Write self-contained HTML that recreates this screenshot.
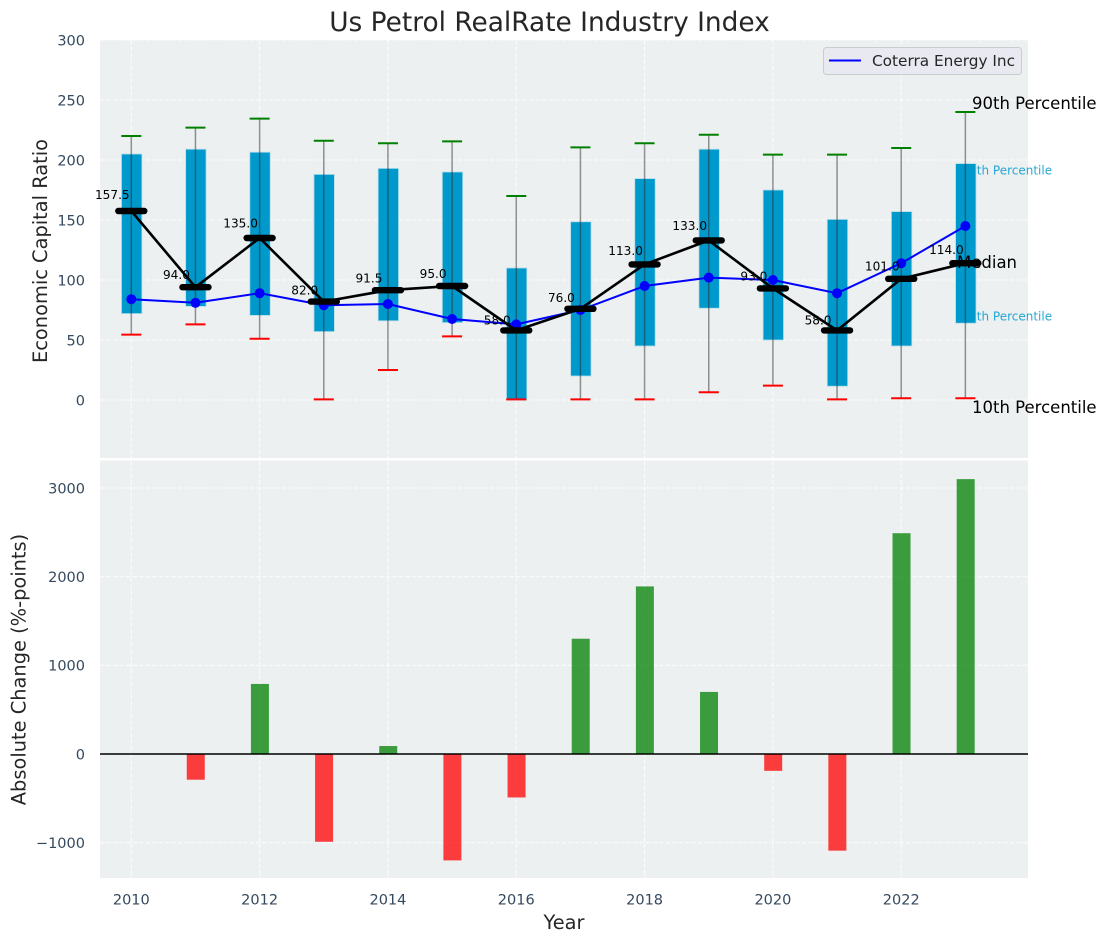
<!DOCTYPE html>
<html lang="en">
<head>
<meta charset="utf-8">
<title>Us Petrol RealRate Industry Index</title>
<style>
html,body{margin:0;padding:0;background:#fff;width:1107px;height:942px;overflow:hidden}
svg{display:block;font-family:"DejaVu Sans","Liberation Sans",sans-serif}
</style>
</head>
<body>
<svg id="chart" xmlns="http://www.w3.org/2000/svg" width="1107" height="942" viewBox="0 0 1107 942"></svg>
<script>
const years = [2010,2011,2012,2013,2014,2015,2016,2017,2018,2019,2020,2021,2022,2023];
const p90 = [220,227,234.5,216,214,215.5,170,210.5,214,221,204.5,204.5,210,240];
const p75 = [205,209,206.5,188,193,190,110,148.5,184.5,209,175,150.5,157,197];
const p25 = [72,78,70.5,57,66,64.5,0,20,45,76.5,50,11.5,45,64];
const p10 = [54.5,63,51,0.5,25,53,0.5,0.5,0.5,6.5,12,0.5,1.5,1.5];
const medians = [157.5,94,135,82,91.5,95,58,76,113,133,93,58,101,114];
const companyValues = [84,81,89,79,80,67.5,63,75,95,102,100,89,114,145];
const absChange = [0,-290,790,-990,90,-1200,-490,1300,1890,700,-190,-1090,2490,3100];
const xTicks = [2010,2012,2014,2016,2018,2020,2022];
const topYTicks = [0,50,100,150,200,250,300];
const bottomYTicks = [-1000,0,1000,2000,3000];
const topTitle = 'Us Petrol RealRate Industry Index';

const svg = document.getElementById('chart');
const NS = 'http://www.w3.org/2000/svg';
const L = 100, R = 1028, T1 = 40, B1 = 458, T2 = 460.5, B2 = 878;
const x = v => 131.3 + (v - 2010) * 64.16;
const y1 = v => 400 - v * 1.2;
const y2 = v => 754 - v * 0.08867;
function mk(tag, attrs, text) {
  const el = document.createElementNS(NS, tag);
  for (const k in attrs) el.setAttribute(k, attrs[k]);
  if (text !== undefined) el.textContent = text;
  svg.appendChild(el);
  return el;
}
const fmt = v => (v < 0 ? '\u2212' + Math.abs(v) : String(v));
let el;

el = mk('rect', {x:L, y:T1, width:R-L, height:B1-T1, fill:'#ecf0f1'});


el = mk('rect', {x:L, y:T2, width:R-L, height:B2-T2, fill:'#ecf0f1'});



const gridStyle = {stroke:'#ffffff', 'stroke-width':1.1, 'stroke-dasharray':'4.5 2', opacity:0.8};
xTicks.forEach(t => {
  el = mk('line', Object.assign({x1:x(t), x2:x(t), y1:T1, y2:B1}, gridStyle));
  
  
  el = mk('line', Object.assign({x1:x(t), x2:x(t), y1:T2, y2:B2}, gridStyle));
  
  
  el = mk('text', {x:x(t), y:904.5, 'text-anchor':'middle', 'font-size':14.5, fill:'#34495e'}, String(t));
  
  
});
topYTicks.forEach(t => {
  el = mk('line', Object.assign({x1:L, x2:R, y1:y1(t), y2:y1(t)}, gridStyle));
  
  
  el = mk('text', {x:85, y:y1(t)+5.3, 'text-anchor':'end', 'font-size':14.5, fill:'#34495e'}, String(t));
  
  
});
bottomYTicks.forEach(t => {
  el = mk('line', Object.assign({x1:L, x2:R, y1:y2(t), y2:y2(t)}, gridStyle));
  
  
  el = mk('text', {x:85, y:y2(t)+5.3, 'text-anchor':'end', 'font-size':14.5, fill:'#34495e'}, fmt(t));
  
  
});

el = mk('text', {x:961.5, y:174.5, 'font-size':12, fill:'#0099cc', 'fill-opacity':0.85}, '75th Percentile');


el = mk('text', {x:961.5, y:320.5, 'font-size':12, fill:'#0099cc', 'fill-opacity':0.85}, '25th Percentile');



years.forEach((yr, i) => {
  el = mk('rect', {x:x(yr)-9.8, y:y1(p75[i]), width:20.4, height:y1(p25[i])-y1(p75[i]), fill:'#0099cc', stroke:'#b5dcea', 'stroke-width':0.8});
  
  
  el = mk('line', {x1:x(yr), x2:x(yr), y1:y1(p90[i]), y2:y1(p10[i]), stroke:'#2b2b2b', 'stroke-opacity':0.5, 'stroke-width':1.5});
  
  
  el = mk('line', {x1:x(yr)-10, x2:x(yr)+10, y1:y1(p90[i]), y2:y1(p90[i]), stroke:'#008000', 'stroke-width':2});
  
  
  el = mk('line', {x1:x(yr)-10, x2:x(yr)+10, y1:y1(p10[i]), y2:y1(p10[i]), stroke:'#ff0000', 'stroke-width':2});
  
  
});

el = mk('polyline', {points:years.map((yr,i)=>x(yr)+','+y1(companyValues[i])).join(' '), fill:'none', stroke:'#0000ff', 'stroke-width':2});


years.forEach((yr, i) => {
  el = mk('circle', {cx:x(yr), cy:y1(companyValues[i]), r:5, fill:'#0000ff'});
  
  
});

el = mk('polyline', {points:years.map((yr,i)=>x(yr)+','+y1(medians[i])).join(' '), fill:'none', stroke:'#000000', 'stroke-width':2.6});


years.forEach((yr, i) => {
  el = mk('line', {x1:x(yr)-13, x2:x(yr)+13, y1:y1(medians[i]), y2:y1(medians[i]), stroke:'#000000', 'stroke-width':6.4, 'stroke-linecap':'round'});
  
  
  el = mk('text', {x:x(yr)-19, y:y1(medians[i]*1.05)-2.4, 'text-anchor':'middle', 'font-size':12.1, fill:'#000000'}, medians[i].toFixed(1));
  
  
});

el = mk('text', {x:972, y:109, 'font-size':16.5, fill:'#000000'}, '90th Percentile');


el = mk('text', {x:957, y:268, 'font-size':16.5, fill:'#000000'}, 'Median');


el = mk('text', {x:972, y:413, 'font-size':16.5, fill:'#000000'}, '10th Percentile');



years.forEach((yr, i) => {
  if (absChange[i] === 0) return;
  const top = Math.min(y2(0), y2(absChange[i]));
  const h = Math.abs(y2(absChange[i]) - y2(0));
  el = mk('rect', {x:x(yr)-8.7, y:top, width:18, height:h, fill:absChange[i] > 0 ? '#008000' : '#ff0000', 'fill-opacity':0.75});
  
  
});
el = mk('line', {x1:L, x2:R, y1:y2(0), y2:y2(0), stroke:'#000000', 'stroke-width':1.4});



el = mk('rect', {x:823.5, y:47.5, width:198, height:27, rx:3, fill:'#e9e9f1', stroke:'#cccccc', 'stroke-width':1});


el = mk('line', {x1:829, x2:861, y1:60.5, y2:60.5, stroke:'#0000ff', 'stroke-width':2});


el = mk('text', {x:872, y:66, 'font-size':15.3, fill:'#262626'}, 'Coterra Energy Inc');



el = mk('text', {x:549.5, y:31, 'text-anchor':'middle', 'font-size':26.4, fill:'#262626'}, topTitle);


el = mk('text', {x:0, y:0, transform:'translate(47,251) rotate(-90)', 'text-anchor':'middle', 'font-size':19.4, fill:'#262626'}, 'Economic Capital Ratio');


el = mk('text', {x:0, y:0, transform:'translate(25.5,669.5) rotate(-90)', 'text-anchor':'middle', 'font-size':19.4, fill:'#262626'}, 'Absolute Change (%-points)');


el = mk('text', {x:564, y:929, 'text-anchor':'middle', 'font-size':19.4, fill:'#262626'}, 'Year');


</script>
</body>
</html>
